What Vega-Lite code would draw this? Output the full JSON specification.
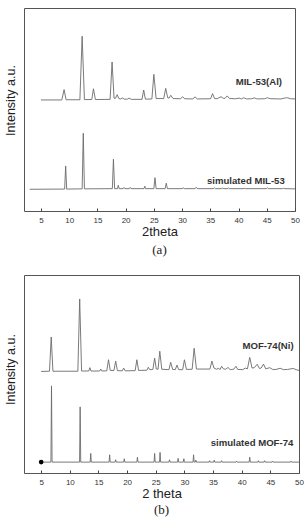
{
  "$schema": "https://vega.github.io/schema/vega-lite/v6.json",
  "padding": {"left": 3, "top": 7, "right": 6, "bottom": 0},
  "background": "white",
  "config": {
    "font": "Liberation Sans",
    "view": {"stroke": "#555555", "strokeWidth": 1},
    "axis": {"grid": false, "domain": false},
    "axisX": {
      "values": [3.3333, 5, 6.6667, 8.3333, 10, 11.6667, 13.3333, 15, 16.6667, 18.3333, 20, 21.6667, 23.3333, 25, 26.6667, 28.3333, 30, 31.6667, 33.3333, 35, 36.6667, 38.3333, 40, 41.6667, 43.3333, 45, 46.6667, 48.3333, 50],
      "labelExpr": "abs(datum.value / 5 - round(datum.value / 5)) < 0.001 ? format(datum.value, 'd') : ''",
      "labelOverlap": false,
      "labelFlush": false,
      "offset": -3,
      "ticks": true,
      "tickSize": 3,
      "tickWidth": 1,
      "tickColor": "#444444",
      "labelFontSize": 8,
      "labelColor": "#333333",
      "labelPadding": 5,
      "titleFontSize": 13,
      "titleFontWeight": "normal",
      "titleColor": "#222222",
      "titlePadding": 1
    },
    "axisY": {"ticks": false, "labels": false, "titleFontSize": 12.5, "titleFontWeight": "normal", "titleColor": "#222222", "titlePadding": 7},
    "title": {"font": "Liberation Serif", "fontSize": 13, "fontWeight": "normal", "color": "#222222"}
  },
  "datasets": {
    "xrdA": [
      {"s": "MIL-53(Al)", "t": 5, "i": 54.7},
      {"s": "MIL-53(Al)", "t": 8.7, "i": 54.7},
      {"s": "MIL-53(Al)", "t": 9.1, "i": 59.8},
      {"s": "MIL-53(Al)", "t": 9.45, "i": 54.8},
      {"s": "MIL-53(Al)", "t": 11.9, "i": 54.8},
      {"s": "MIL-53(Al)", "t": 12.3, "i": 86.1},
      {"s": "MIL-53(Al)", "t": 12.7, "i": 54.9},
      {"s": "MIL-53(Al)", "t": 14.0, "i": 54.9},
      {"s": "MIL-53(Al)", "t": 14.3, "i": 60.2},
      {"s": "MIL-53(Al)", "t": 14.65, "i": 54.9},
      {"s": "MIL-53(Al)", "t": 17.25, "i": 55.0},
      {"s": "MIL-53(Al)", "t": 17.6, "i": 73.4},
      {"s": "MIL-53(Al)", "t": 17.95, "i": 55.6},
      {"s": "MIL-53(Al)", "t": 18.2, "i": 55.5},
      {"s": "MIL-53(Al)", "t": 18.5, "i": 57.3},
      {"s": "MIL-53(Al)", "t": 18.8, "i": 55.4},
      {"s": "MIL-53(Al)", "t": 19.1, "i": 55.2},
      {"s": "MIL-53(Al)", "t": 19.4, "i": 55.7},
      {"s": "MIL-53(Al)", "t": 19.8, "i": 55.1},
      {"s": "MIL-53(Al)", "t": 20.3, "i": 55.1},
      {"s": "MIL-53(Al)", "t": 20.6, "i": 55.6},
      {"s": "MIL-53(Al)", "t": 21.0, "i": 55.0},
      {"s": "MIL-53(Al)", "t": 22.9, "i": 55.0},
      {"s": "MIL-53(Al)", "t": 23.2, "i": 59.6},
      {"s": "MIL-53(Al)", "t": 23.5, "i": 55.1},
      {"s": "MIL-53(Al)", "t": 24.65, "i": 55.2},
      {"s": "MIL-53(Al)", "t": 25.0, "i": 67.3},
      {"s": "MIL-53(Al)", "t": 25.4, "i": 55.4},
      {"s": "MIL-53(Al)", "t": 26.75, "i": 55.4},
      {"s": "MIL-53(Al)", "t": 27.1, "i": 60.4},
      {"s": "MIL-53(Al)", "t": 27.45, "i": 55.8},
      {"s": "MIL-53(Al)", "t": 27.7, "i": 55.6},
      {"s": "MIL-53(Al)", "t": 28.0, "i": 57.0},
      {"s": "MIL-53(Al)", "t": 28.4, "i": 55.4},
      {"s": "MIL-53(Al)", "t": 29.7, "i": 55.3},
      {"s": "MIL-53(Al)", "t": 30.1, "i": 56.2},
      {"s": "MIL-53(Al)", "t": 30.5, "i": 55.3},
      {"s": "MIL-53(Al)", "t": 31.9, "i": 55.2},
      {"s": "MIL-53(Al)", "t": 32.3, "i": 56.2},
      {"s": "MIL-53(Al)", "t": 32.7, "i": 55.2},
      {"s": "MIL-53(Al)", "t": 35.05, "i": 55.3},
      {"s": "MIL-53(Al)", "t": 35.4, "i": 57.8},
      {"s": "MIL-53(Al)", "t": 35.75, "i": 55.4},
      {"s": "MIL-53(Al)", "t": 36.2, "i": 55.3},
      {"s": "MIL-53(Al)", "t": 36.9, "i": 56.3},
      {"s": "MIL-53(Al)", "t": 37.3, "i": 55.5},
      {"s": "MIL-53(Al)", "t": 37.6, "i": 55.5},
      {"s": "MIL-53(Al)", "t": 38.0, "i": 56.7},
      {"s": "MIL-53(Al)", "t": 38.4, "i": 55.4},
      {"s": "MIL-53(Al)", "t": 39.5, "i": 55.3},
      {"s": "MIL-53(Al)", "t": 40.1, "i": 55.6},
      {"s": "MIL-53(Al)", "t": 40.5, "i": 55.2},
      {"s": "MIL-53(Al)", "t": 40.9, "i": 55.8},
      {"s": "MIL-53(Al)", "t": 41.4, "i": 55.2},
      {"s": "MIL-53(Al)", "t": 42.3, "i": 55.3},
      {"s": "MIL-53(Al)", "t": 42.8, "i": 55.7},
      {"s": "MIL-53(Al)", "t": 43.3, "i": 55.2},
      {"s": "MIL-53(Al)", "t": 44.6, "i": 55.3},
      {"s": "MIL-53(Al)", "t": 45.1, "i": 55.8},
      {"s": "MIL-53(Al)", "t": 45.6, "i": 55.3},
      {"s": "MIL-53(Al)", "t": 47.5, "i": 55.2},
      {"s": "MIL-53(Al)", "t": 48.3, "i": 55.7},
      {"s": "MIL-53(Al)", "t": 48.7, "i": 55.8},
      {"s": "MIL-53(Al)", "t": 49.2, "i": 55.3},
      {"s": "MIL-53(Al)", "t": 50, "i": 55.2},

      {"s": "simulated MIL-53", "t": 3, "i": 10.7},
      {"s": "simulated MIL-53", "t": 9.2, "i": 10.8},
      {"s": "simulated MIL-53", "t": 9.38, "i": 22.2},
      {"s": "simulated MIL-53", "t": 9.56, "i": 10.8},
      {"s": "simulated MIL-53", "t": 12.3, "i": 10.9},
      {"s": "simulated MIL-53", "t": 12.5, "i": 38.3},
      {"s": "simulated MIL-53", "t": 12.7, "i": 10.9},
      {"s": "simulated MIL-53", "t": 17.65, "i": 11.0},
      {"s": "simulated MIL-53", "t": 17.84, "i": 25.5},
      {"s": "simulated MIL-53", "t": 18.05, "i": 11.0},
      {"s": "simulated MIL-53", "t": 18.55, "i": 11.0},
      {"s": "simulated MIL-53", "t": 18.7, "i": 12.7},
      {"s": "simulated MIL-53", "t": 18.85, "i": 11.0},
      {"s": "simulated MIL-53", "t": 19.55, "i": 11.0},
      {"s": "simulated MIL-53", "t": 19.7, "i": 11.6},
      {"s": "simulated MIL-53", "t": 19.85, "i": 11.0},
      {"s": "simulated MIL-53", "t": 20.65, "i": 11.0},
      {"s": "simulated MIL-53", "t": 20.8, "i": 11.6},
      {"s": "simulated MIL-53", "t": 20.95, "i": 11.0},
      {"s": "simulated MIL-53", "t": 23.25, "i": 11.0},
      {"s": "simulated MIL-53", "t": 23.4, "i": 12.2},
      {"s": "simulated MIL-53", "t": 23.55, "i": 11.0},
      {"s": "simulated MIL-53", "t": 25.0, "i": 11.0},
      {"s": "simulated MIL-53", "t": 25.2, "i": 16.4},
      {"s": "simulated MIL-53", "t": 25.4, "i": 11.0},
      {"s": "simulated MIL-53", "t": 27.0, "i": 11.0},
      {"s": "simulated MIL-53", "t": 27.2, "i": 13.7},
      {"s": "simulated MIL-53", "t": 27.4, "i": 11.0},
      {"s": "simulated MIL-53", "t": 30.0, "i": 11.0},
      {"s": "simulated MIL-53", "t": 30.2, "i": 11.4},
      {"s": "simulated MIL-53", "t": 30.4, "i": 11.0},
      {"s": "simulated MIL-53", "t": 32.3, "i": 11.0},
      {"s": "simulated MIL-53", "t": 32.5, "i": 11.7},
      {"s": "simulated MIL-53", "t": 32.7, "i": 11.0},
      {"s": "simulated MIL-53", "t": 35.5, "i": 11.0},
      {"s": "simulated MIL-53", "t": 35.7, "i": 11.4},
      {"s": "simulated MIL-53", "t": 35.9, "i": 11.0},
      {"s": "simulated MIL-53", "t": 37.0, "i": 11.0},
      {"s": "simulated MIL-53", "t": 37.2, "i": 11.3},
      {"s": "simulated MIL-53", "t": 37.4, "i": 11.0},
      {"s": "simulated MIL-53", "t": 38.0, "i": 11.0},
      {"s": "simulated MIL-53", "t": 38.2, "i": 11.3},
      {"s": "simulated MIL-53", "t": 38.4, "i": 11.0},
      {"s": "simulated MIL-53", "t": 40.8, "i": 11.0},
      {"s": "simulated MIL-53", "t": 41.0, "i": 11.2},
      {"s": "simulated MIL-53", "t": 41.2, "i": 11.0},
      {"s": "simulated MIL-53", "t": 44.9, "i": 11.0},
      {"s": "simulated MIL-53", "t": 45.1, "i": 11.4},
      {"s": "simulated MIL-53", "t": 45.3, "i": 11.0},
      {"s": "simulated MIL-53", "t": 47.8, "i": 11.0},
      {"s": "simulated MIL-53", "t": 48.0, "i": 11.2},
      {"s": "simulated MIL-53", "t": 48.2, "i": 11.0},
      {"s": "simulated MIL-53", "t": 50, "i": 10.9}
    ],
    "namesA": [
      {"t": 43.6, "i": 63.5, "label": "MIL-53(Al)"},
      {"t": 41.3, "i": 14.8, "label": "simulated MIL-53"}
    ],
    "xrdB": [
      {"s": "MOF-74(Ni)", "t": 5, "i": 51.3},
      {"s": "MOF-74(Ni)", "t": 6.45, "i": 51.4},
      {"s": "MOF-74(Ni)", "t": 6.75, "i": 68.7},
      {"s": "MOF-74(Ni)", "t": 7.05, "i": 51.4},
      {"s": "MOF-74(Ni)", "t": 11.4, "i": 51.4},
      {"s": "MOF-74(Ni)", "t": 11.72, "i": 87.9},
      {"s": "MOF-74(Ni)", "t": 12.05, "i": 51.5},
      {"s": "MOF-74(Ni)", "t": 13.3, "i": 51.5},
      {"s": "MOF-74(Ni)", "t": 13.5, "i": 53.2},
      {"s": "MOF-74(Ni)", "t": 13.7, "i": 51.5},
      {"s": "MOF-74(Ni)", "t": 15.2, "i": 51.5},
      {"s": "MOF-74(Ni)", "t": 15.4, "i": 52.5},
      {"s": "MOF-74(Ni)", "t": 15.6, "i": 51.5},
      {"s": "MOF-74(Ni)", "t": 16.45, "i": 51.6},
      {"s": "MOF-74(Ni)", "t": 16.75, "i": 57.2},
      {"s": "MOF-74(Ni)", "t": 17.05, "i": 51.8},
      {"s": "MOF-74(Ni)", "t": 17.7, "i": 51.8},
      {"s": "MOF-74(Ni)", "t": 18.0, "i": 56.5},
      {"s": "MOF-74(Ni)", "t": 18.3, "i": 51.7},
      {"s": "MOF-74(Ni)", "t": 19.15, "i": 51.6},
      {"s": "MOF-74(Ni)", "t": 19.4, "i": 53.0},
      {"s": "MOF-74(Ni)", "t": 19.65, "i": 51.6},
      {"s": "MOF-74(Ni)", "t": 21.4, "i": 51.7},
      {"s": "MOF-74(Ni)", "t": 21.7, "i": 57.2},
      {"s": "MOF-74(Ni)", "t": 22.0, "i": 51.8},
      {"s": "MOF-74(Ni)", "t": 23.45, "i": 51.9},
      {"s": "MOF-74(Ni)", "t": 23.7, "i": 53.4},
      {"s": "MOF-74(Ni)", "t": 23.95, "i": 52.2},
      {"s": "MOF-74(Ni)", "t": 24.5, "i": 52.3},
      {"s": "MOF-74(Ni)", "t": 24.8, "i": 58.0},
      {"s": "MOF-74(Ni)", "t": 25.1, "i": 52.5},
      {"s": "MOF-74(Ni)", "t": 25.4, "i": 52.4},
      {"s": "MOF-74(Ni)", "t": 25.7, "i": 61.5},
      {"s": "MOF-74(Ni)", "t": 26.05, "i": 52.4},
      {"s": "MOF-74(Ni)", "t": 27.3, "i": 52.2},
      {"s": "MOF-74(Ni)", "t": 27.6, "i": 55.9},
      {"s": "MOF-74(Ni)", "t": 27.95, "i": 52.3},
      {"s": "MOF-74(Ni)", "t": 28.4, "i": 52.2},
      {"s": "MOF-74(Ni)", "t": 28.7, "i": 54.5},
      {"s": "MOF-74(Ni)", "t": 29.0, "i": 52.2},
      {"s": "MOF-74(Ni)", "t": 29.7, "i": 52.2},
      {"s": "MOF-74(Ni)", "t": 30.0, "i": 57.2},
      {"s": "MOF-74(Ni)", "t": 30.35, "i": 52.3},
      {"s": "MOF-74(Ni)", "t": 31.35, "i": 52.4},
      {"s": "MOF-74(Ni)", "t": 31.7, "i": 63.0},
      {"s": "MOF-74(Ni)", "t": 32.1, "i": 52.5},
      {"s": "MOF-74(Ni)", "t": 34.45, "i": 52.5},
      {"s": "MOF-74(Ni)", "t": 34.8, "i": 56.5},
      {"s": "MOF-74(Ni)", "t": 35.15, "i": 53.0},
      {"s": "MOF-74(Ni)", "t": 35.6, "i": 52.4},
      {"s": "MOF-74(Ni)", "t": 36.0, "i": 52.9},
      {"s": "MOF-74(Ni)", "t": 36.2, "i": 52.2},
      {"s": "MOF-74(Ni)", "t": 36.5, "i": 53.9},
      {"s": "MOF-74(Ni)", "t": 36.8, "i": 52.6},
      {"s": "MOF-74(Ni)", "t": 37.2, "i": 52.4},
      {"s": "MOF-74(Ni)", "t": 37.6, "i": 53.3},
      {"s": "MOF-74(Ni)", "t": 38.0, "i": 52.2},
      {"s": "MOF-74(Ni)", "t": 38.6, "i": 52.4},
      {"s": "MOF-74(Ni)", "t": 39.0, "i": 53.9},
      {"s": "MOF-74(Ni)", "t": 39.3, "i": 52.3},
      {"s": "MOF-74(Ni)", "t": 40.2, "i": 52.2},
      {"s": "MOF-74(Ni)", "t": 40.6, "i": 53.0},
      {"s": "MOF-74(Ni)", "t": 41.0, "i": 52.6},
      {"s": "MOF-74(Ni)", "t": 41.4, "i": 58.4},
      {"s": "MOF-74(Ni)", "t": 41.8, "i": 53.0},
      {"s": "MOF-74(Ni)", "t": 42.2, "i": 53.2},
      {"s": "MOF-74(Ni)", "t": 42.7, "i": 54.9},
      {"s": "MOF-74(Ni)", "t": 43.1, "i": 52.8},
      {"s": "MOF-74(Ni)", "t": 43.4, "i": 53.0},
      {"s": "MOF-74(Ni)", "t": 43.8, "i": 55.0},
      {"s": "MOF-74(Ni)", "t": 44.2, "i": 52.6},
      {"s": "MOF-74(Ni)", "t": 44.9, "i": 53.2},
      {"s": "MOF-74(Ni)", "t": 45.4, "i": 52.3},
      {"s": "MOF-74(Ni)", "t": 46.0, "i": 52.3},
      {"s": "MOF-74(Ni)", "t": 46.7, "i": 52.9},
      {"s": "MOF-74(Ni)", "t": 47.3, "i": 52.2},
      {"s": "MOF-74(Ni)", "t": 48.0, "i": 52.3},
      {"s": "MOF-74(Ni)", "t": 48.6, "i": 52.6},
      {"s": "MOF-74(Ni)", "t": 49.0, "i": 52.8},
      {"s": "MOF-74(Ni)", "t": 49.5, "i": 52.2},
      {"s": "MOF-74(Ni)", "t": 50, "i": 51.8},

      {"s": "simulated MOF-74", "t": 5, "i": 5.5},
      {"s": "simulated MOF-74", "t": 6.7, "i": 5.5},
      {"s": "simulated MOF-74", "t": 6.8, "i": 44.0},
      {"s": "simulated MOF-74", "t": 6.9, "i": 5.5},
      {"s": "simulated MOF-74", "t": 11.7, "i": 5.5},
      {"s": "simulated MOF-74", "t": 11.8, "i": 33.4},
      {"s": "simulated MOF-74", "t": 11.9, "i": 5.5},
      {"s": "simulated MOF-74", "t": 13.55, "i": 5.5},
      {"s": "simulated MOF-74", "t": 13.65, "i": 9.9},
      {"s": "simulated MOF-74", "t": 13.75, "i": 5.5},
      {"s": "simulated MOF-74", "t": 16.85, "i": 5.5},
      {"s": "simulated MOF-74", "t": 16.95, "i": 9.2},
      {"s": "simulated MOF-74", "t": 17.05, "i": 5.5},
      {"s": "simulated MOF-74", "t": 17.9, "i": 5.5},
      {"s": "simulated MOF-74", "t": 18.0, "i": 6.7},
      {"s": "simulated MOF-74", "t": 18.1, "i": 5.5},
      {"s": "simulated MOF-74", "t": 19.4, "i": 5.5},
      {"s": "simulated MOF-74", "t": 19.5, "i": 7.2},
      {"s": "simulated MOF-74", "t": 19.6, "i": 5.5},
      {"s": "simulated MOF-74", "t": 21.7, "i": 5.5},
      {"s": "simulated MOF-74", "t": 21.8, "i": 8.0},
      {"s": "simulated MOF-74", "t": 21.9, "i": 5.5},
      {"s": "simulated MOF-74", "t": 24.7, "i": 5.5},
      {"s": "simulated MOF-74", "t": 24.8, "i": 9.9},
      {"s": "simulated MOF-74", "t": 24.9, "i": 5.5},
      {"s": "simulated MOF-74", "t": 25.65, "i": 5.5},
      {"s": "simulated MOF-74", "t": 25.75, "i": 10.4},
      {"s": "simulated MOF-74", "t": 25.85, "i": 5.5},
      {"s": "simulated MOF-74", "t": 27.3, "i": 5.5},
      {"s": "simulated MOF-74", "t": 27.4, "i": 6.7},
      {"s": "simulated MOF-74", "t": 27.5, "i": 5.5},
      {"s": "simulated MOF-74", "t": 28.8, "i": 5.5},
      {"s": "simulated MOF-74", "t": 28.9, "i": 7.4},
      {"s": "simulated MOF-74", "t": 29.0, "i": 5.5},
      {"s": "simulated MOF-74", "t": 29.8, "i": 5.5},
      {"s": "simulated MOF-74", "t": 29.9, "i": 7.2},
      {"s": "simulated MOF-74", "t": 30.0, "i": 5.5},
      {"s": "simulated MOF-74", "t": 31.5, "i": 5.5},
      {"s": "simulated MOF-74", "t": 31.6, "i": 9.2},
      {"s": "simulated MOF-74", "t": 31.7, "i": 5.5},
      {"s": "simulated MOF-74", "t": 31.9, "i": 5.5},
      {"s": "simulated MOF-74", "t": 32.0, "i": 6.5},
      {"s": "simulated MOF-74", "t": 32.1, "i": 5.5},
      {"s": "simulated MOF-74", "t": 34.3, "i": 5.5},
      {"s": "simulated MOF-74", "t": 34.4, "i": 6.2},
      {"s": "simulated MOF-74", "t": 34.5, "i": 5.5},
      {"s": "simulated MOF-74", "t": 35.1, "i": 5.5},
      {"s": "simulated MOF-74", "t": 35.2, "i": 6.5},
      {"s": "simulated MOF-74", "t": 35.3, "i": 5.5},
      {"s": "simulated MOF-74", "t": 36.4, "i": 5.5},
      {"s": "simulated MOF-74", "t": 36.5, "i": 6.2},
      {"s": "simulated MOF-74", "t": 36.6, "i": 5.5},
      {"s": "simulated MOF-74", "t": 39.0, "i": 5.5},
      {"s": "simulated MOF-74", "t": 39.1, "i": 6.0},
      {"s": "simulated MOF-74", "t": 39.2, "i": 5.5},
      {"s": "simulated MOF-74", "t": 41.3, "i": 5.5},
      {"s": "simulated MOF-74", "t": 41.4, "i": 8.0},
      {"s": "simulated MOF-74", "t": 41.5, "i": 5.5},
      {"s": "simulated MOF-74", "t": 42.8, "i": 5.5},
      {"s": "simulated MOF-74", "t": 42.9, "i": 6.2},
      {"s": "simulated MOF-74", "t": 43.0, "i": 5.5},
      {"s": "simulated MOF-74", "t": 43.9, "i": 5.5},
      {"s": "simulated MOF-74", "t": 44.0, "i": 6.2},
      {"s": "simulated MOF-74", "t": 44.1, "i": 5.5},
      {"s": "simulated MOF-74", "t": 45.3, "i": 5.5},
      {"s": "simulated MOF-74", "t": 45.4, "i": 6.0},
      {"s": "simulated MOF-74", "t": 45.5, "i": 5.5},
      {"s": "simulated MOF-74", "t": 48.5, "i": 5.5},
      {"s": "simulated MOF-74", "t": 48.6, "i": 6.0},
      {"s": "simulated MOF-74", "t": 48.7, "i": 5.5},
      {"s": "simulated MOF-74", "t": 50, "i": 5.5}
    ],
    "namesB": [
      {"t": 44.6, "i": 63.9, "label": "MOF-74(Ni)"},
      {"t": 41.8, "i": 15.0, "label": "simulated MOF-74"}
    ],
    "startB": [
      {"t": 5, "i": 5.5}
    ]
  },
  "vconcat": [
    {
      "width": 271,
      "height": 203,
      "title": {"text": "(a)", "orient": "bottom", "offset": 6},
      "layer": [
        {
          "data": {"name": "xrdA"},
          "mark": {"type": "line", "color": "#6b6b6b", "strokeWidth": 0.9},
          "encoding": {
            "x": {
              "field": "t", "type": "quantitative",
              "scale": {"domain": [2, 50], "nice": false, "zero": false},
              "axis": {"title": "2theta"}
            },
            "y": {
              "field": "i", "type": "quantitative",
              "scale": {"domain": [0, 100], "nice": false},
              "axis": {"title": "Intensity a.u.", "titleY": 92}
            },
            "detail": {"field": "s"}
          }
        },
        {
          "data": {"name": "namesA"},
          "mark": {"type": "text", "fontWeight": "bold", "fontSize": 9.6, "color": "#333333"},
          "encoding": {
            "x": {"field": "t", "type": "quantitative"},
            "y": {"field": "i", "type": "quantitative"},
            "text": {"field": "label"}
          }
        }
      ]
    },
    {
      "width": 275,
      "height": 198,
      "title": {"text": "(b)", "orient": "bottom", "offset": 4},
      "layer": [
        {
          "data": {"name": "xrdB"},
          "mark": {"type": "line", "color": "#6b6b6b", "strokeWidth": 0.9},
          "encoding": {
            "x": {
              "field": "t", "type": "quantitative",
              "scale": {"domain": [2, 50], "nice": false, "zero": false},
              "axis": {"title": "2 theta"}
            },
            "y": {
              "field": "i", "type": "quantitative",
              "scale": {"domain": [0, 100], "nice": false},
              "axis": {"title": "Intensity a.u.", "titleY": 94}
            },
            "detail": {"field": "s"}
          }
        },
        {
          "data": {"name": "startB"},
          "mark": {"type": "point", "filled": true, "color": "#000000", "size": 22, "opacity": 1},
          "encoding": {
            "x": {"field": "t", "type": "quantitative"},
            "y": {"field": "i", "type": "quantitative"}
          }
        },
        {
          "data": {"name": "namesB"},
          "mark": {"type": "text", "fontWeight": "bold", "fontSize": 9.6, "color": "#333333"},
          "encoding": {
            "x": {"field": "t", "type": "quantitative"},
            "y": {"field": "i", "type": "quantitative"},
            "text": {"field": "label"}
          }
        }
      ]
    }
  ],
  "spacing": 16
}
